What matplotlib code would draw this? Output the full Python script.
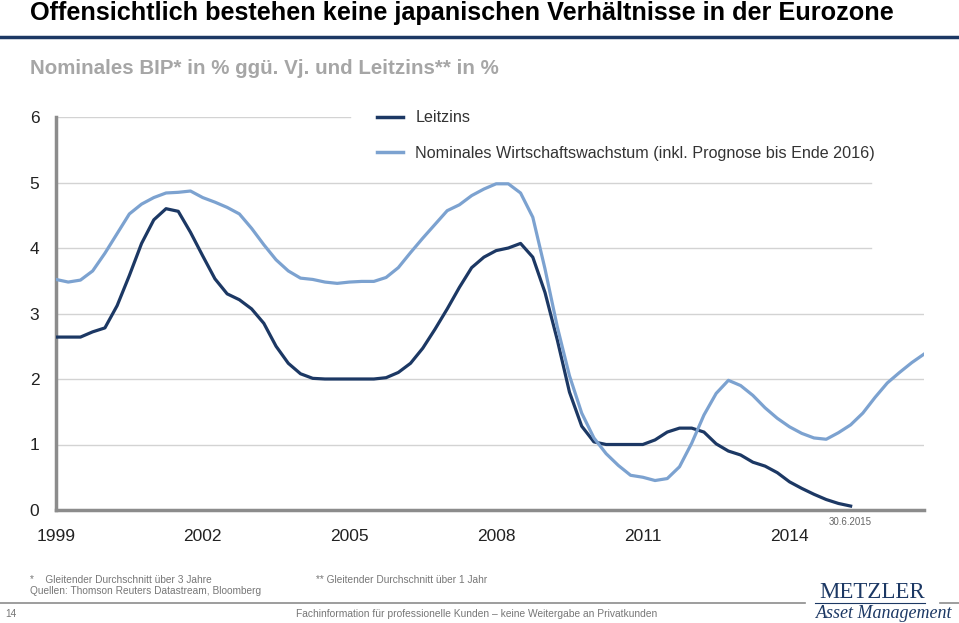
import numpy as np
import matplotlib.pyplot as plt
from matplotlib import font_manager

# Quarterly values, 1999 Q1 onwards
leitzins = [2.64, 2.64, 2.64, 2.72, 2.78, 3.12, 3.58, 4.07, 4.43, 4.60,
            4.56, 4.24, 3.88, 3.53, 3.30, 3.21, 3.07, 2.85, 2.50, 2.24,
            2.08, 2.01, 2.00, 2.00, 2.00, 2.00, 2.00, 2.02, 2.10, 2.24,
            2.47, 2.76, 3.07, 3.40, 3.70, 3.86, 3.96, 4.00, 4.07, 3.86,
            3.32, 2.60, 1.80, 1.28, 1.04, 1.00, 1.00, 1.00, 1.00, 1.07,
            1.19, 1.25, 1.25, 1.19, 1.01, 0.90, 0.84, 0.73, 0.67, 0.57,
            0.43, 0.33, 0.24, 0.16, 0.10, 0.06]
bip = [3.52, 3.48, 3.51, 3.65, 3.92, 4.22, 4.52, 4.67, 4.77, 4.84,
       4.85, 4.87, 4.77, 4.70, 4.62, 4.52, 4.30, 4.05, 3.82, 3.65,
       3.54, 3.52, 3.48, 3.46, 3.48, 3.49, 3.49, 3.55, 3.70, 3.93,
       4.15, 4.36, 4.57, 4.66, 4.80, 4.90, 4.98, 4.98, 4.84, 4.47,
       3.68, 2.80, 2.05, 1.48, 1.10, 0.86, 0.68, 0.53, 0.50, 0.45,
       0.48, 0.66, 1.02, 1.45, 1.78, 1.98, 1.90, 1.75, 1.56, 1.40,
       1.27, 1.17, 1.10, 1.08, 1.18, 1.30, 1.48, 1.72, 1.94, 2.10,
       2.25, 2.38]
year_ticks = [1999, 2002, 2005, 2008, 2011, 2014]
y_ticks = [0, 1, 2, 3, 4, 5, 6]
labels = ["Leitzins", "Nominales Wirtschaftswachstum (inkl. Prognose bis Ende 2016)"]

x_lz = 1999 + np.arange(len(leitzins)) / 4
x_bip = 1999 + np.arange(len(bip)) / 4


def pick(name, fallback="Liberation Sans"):
    try:
        font_manager.findfont(name, fallback_to_default=False)
        return name
    except Exception:
        return fallback


narrow = pick("Liberation Sans Narrow")
plt.rcParams["font.family"] = ["Liberation Sans", "DejaVu Sans"]

dark = "#1c3864"
light = "#7ca2d0"
grey_txt = "#222222"

W, H = 959, 623
fig = plt.figure(figsize=(W / 100, H / 100), dpi=100)
ax = fig.add_axes([56 / W, 1 - 510 / H, (924 - 56) / W, (510 - 117) / H])

# gridlines: the top ones stop short where the legend sits
grid_end = {1: 1.0, 2: 1.0, 3: 1.0, 4: (871 - 56) / 868, 5: (871 - 56) / 868, 6: (350 - 56) / 868}
for lvl, xe in grid_end.items():
    ax.axhline(lvl, xmin=0, xmax=xe, color="#d3d3d3", lw=1, zorder=1)

ax.plot(x_lz, leitzins, color=dark, lw=2.3, label=labels[0], zorder=3)
ax.plot(x_bip, bip, color=light, lw=2.3, label=labels[1], zorder=3)

ax.set_xlim(1999, x_bip[-1])
ax.set_ylim(0, 6)
ax.set_xticks(year_ticks)
ax.set_yticks(y_ticks)
ax.tick_params(length=0, labelsize=12.5, colors=grey_txt)
ax.tick_params(axis="x", pad=14)
ax.tick_params(axis="y", pad=12)
for s in ["top", "right"]:
    ax.spines[s].set_visible(False)
for s in ["left", "bottom"]:
    ax.spines[s].set_color("#8c8c8c")
    ax.spines[s].set_linewidth(2.5)

leg = ax.legend(loc="upper left", bbox_to_anchor=(350 / W, 1 - 83 / H),
                bbox_transform=fig.transFigure, fontsize=11.6, handlelength=1.6,
                handletextpad=0.75, labelspacing=1.25, borderpad=1.7,
                borderaxespad=0, frameon=False)
for t in leg.get_texts():
    t.set_color("#333333")
for h in leg.get_lines():
    h.set_linewidth(2.5)

ax.text(x_lz[-1], -0.1, "30.6.2015", ha="center", va="top", fontsize=7, color="#666666")

# header
fig.text(30 / W, 1 - 13 / H, "Offensichtlich bestehen keine japanischen Verhältnisse in der Eurozone",
         fontsize=18.2, fontweight="bold", family=narrow, va="center", color="black")
fig.add_artist(plt.Line2D([0, 1], [1 - 37 / H, 1 - 37 / H], color=dark, lw=2.5))
fig.text(30 / W, 1 - 68 / H, "Nominales BIP* in % ggü. Vj. und Leitzins** in %",
         fontsize=14.8, fontweight="bold", family=narrow, va="center", color="#a6a6a6")

# footer
fig.text(30 / W, 1 - 580 / H, "*    Gleitender Durchschnitt über 3 Jahre", fontsize=7.3,
         color="#777777", va="center")
fig.text(316 / W, 1 - 580 / H, "** Gleitender Durchschnitt über 1 Jahr", fontsize=7.3,
         color="#777777", va="center")
fig.text(30 / W, 1 - 591 / H, "Quellen: Thomson Reuters Datastream, Bloomberg", fontsize=7.3,
         color="#777777", va="center")
fig.add_artist(plt.Line2D([0, 805 / W], [1 - 603 / H] * 2, color="#8c8c8c", lw=1.2))
fig.add_artist(plt.Line2D([940 / W, 1], [1 - 603 / H] * 2, color="#8c8c8c", lw=1.2))
fig.add_artist(plt.Line2D([815 / W, 925 / W], [1 - 603 / H] * 2, color=dark, lw=0.8))
fig.text(5 / W, 1 - 614 / H, "14", fontsize=7.3, color="#777777", va="center")
fig.text(477 / W, 1 - 614 / H,
         "Fachinformation für professionelle Kunden – keine Weitergabe an Privatkunden",
         fontsize=7.35, color="#777777", va="center", ha="center")
fig.text(872 / W, 1 - 593 / H, "METZLER", fontsize=16.5, family="Liberation Serif",
         color=dark, ha="center", va="center")
fig.text(884 / W, 1 - 613 / H, "Asset Management", fontsize=13, family="Liberation Serif",
         style="italic", color=dark, ha="center", va="center")

fig.savefig("out.png", dpi=100)
